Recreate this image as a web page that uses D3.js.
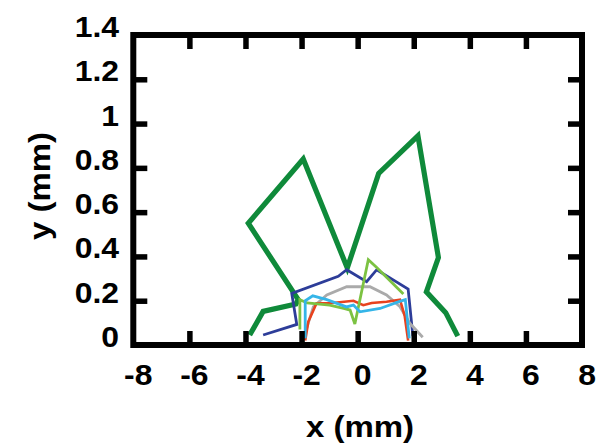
<!DOCTYPE html>
<html>
<head>
<meta charset="utf-8">
<script src="https://cdn.jsdelivr.net/npm/d3@7/dist/d3.min.js"></script>
<style>
  html, body { margin: 0; padding: 0; background: #fff; }
  svg { display: block; }
  text { font-family: "Liberation Sans", Arial, Helvetica, sans-serif; font-weight: bold; fill: #000; }
</style>
</head>
<body>
<svg id="chart" width="608" height="445"></svg>
<script>
// Axis ticks
const xTicks = [-8, -6, -4, -2, 0, 2, 4, 6, 8];
const yTicks = [0, 0.2, 0.4, 0.6, 0.8, 1, 1.2, 1.4];
const xTickLabels = ["-8", "-6", "-4", "-2", "0", "2", "4", "6", "8"];
const yTickLabels = ["0", "0.2", "0.4", "0.6", "0.8", "1", "1.2", "1.4"];

// Profiles (x, y in mm)
const darkGreenX = [-3.85, -3.37, -2.2, -2.12, -3.9, -1.94, -0.37, 0.75, 2.15, 2.88, 2.45, 3.14, 3.57];
const darkGreenY = [0.045, 0.152, 0.185, 0.205, 0.55, 0.84, 0.348, 0.775, 0.945, 0.395, 0.24, 0.146, 0.04];

const blueX = [-3.37, -2.17, -2.35, -0.69, -0.39, 0.32, 0.68, 1.8, 1.97];
const blueY = [0.045, 0.093, 0.233, 0.31, 0.34, 0.286, 0.34, 0.253, 0.04];

const grayX = [-1.88, -1.58, -1.1, -0.39, 0.44, 1.03, 1.51, 1.86, 2.32];
const grayY = [0.05, 0.173, 0.226, 0.263, 0.263, 0.226, 0.173, 0.098, 0.035];

const redX = [-1.87, -1.76, -1.47, -0.9, -0.15, 0.2, 0.5, 1.03, 1.51, 1.68, 1.8];
const redY = [0.02, 0.105, 0.188, 0.19, 0.2, 0.18, 0.19, 0.195, 0.205, 0.13, 0.02];

const lightGreenX = [-2.06, -2.06, -1.8, -1.0, -0.5, -0.27, -0.1, 0.38, 0.68, 1.63];
const lightGreenY = [0.07, 0.205, 0.19, 0.18, 0.165, 0.158, 0.095, 0.385, 0.35, 0.23];

const cyanX = [-1.87, -1.87, -1.6, -1.1, -0.4, -0.15, 0.08, 0.8, 1.45, 1.7, 1.84];
const cyanY = [0.03, 0.2, 0.222, 0.205, 0.172, 0.18, 0.15, 0.165, 0.195, 0.205, 0.03];

const series = [
  { xs: darkGreenX, ys: darkGreenY, color: "#0f8a3a", width: 5.2 },
  { xs: blueX, ys: blueY, color: "#2d3d99", width: 2.8 },
  { xs: grayX, ys: grayY, color: "#aaaaaa", width: 2.8 },
  { xs: redX, ys: redY, color: "#e8421e", width: 2.6 },
  { xs: lightGreenX, ys: lightGreenY, color: "#7cc242", width: 2.8 },
  { xs: cyanX, ys: cyanY, color: "#35b5e8", width: 2.8 }
];

const svg = d3.select("#chart");
const plotL = 133.3, plotR = 582, plotT = 35, plotB = 345;

const x = d3.scaleLinear().domain([-8, 8]).range([plotL, plotR]);
const y = d3.scaleLinear().domain([0, 1.4]).range([plotB, plotT]);

// Data lines
const line = d3.line().x(d => x(d[0])).y(d => y(d[1]));
series.forEach(s => {
  const pts = s.xs.map((v, i) => [v, s.ys[i]]);
  svg.append("path")
    .datum(pts)
    .attr("d", line)
    .attr("fill", "none")
    .attr("stroke", s.color)
    .attr("stroke-width", s.width)
    .attr("stroke-linejoin", "miter")
    .attr("stroke-miterlimit", 3);
});

// Inward ticks on all four sides
const tickLen = 14;
const innerX = xTicks.slice(1, -1);
const innerY = yTicks.slice(1, -1);
function styleTicks(g) {
  g.select(".domain").remove();
  g.selectAll(".tick line").attr("stroke", "#000").attr("stroke-width", 5.5);
  g.selectAll(".tick text").remove();
}
svg.append("g").attr("transform", `translate(0,${plotB})`)
  .call(d3.axisBottom(x).tickValues(innerX).tickSize(-tickLen)).call(styleTicks);
svg.append("g").attr("transform", `translate(0,${plotT})`)
  .call(d3.axisTop(x).tickValues(innerX).tickSize(-tickLen)).call(styleTicks);
svg.append("g").attr("transform", `translate(${plotL},0)`)
  .call(d3.axisLeft(y).tickValues(innerY).tickSize(-tickLen)).call(styleTicks);
svg.append("g").attr("transform", `translate(${plotR},0)`)
  .call(d3.axisRight(y).tickValues(innerY).tickSize(-tickLen)).call(styleTicks);

// Frame
svg.append("rect")
  .attr("x", plotL).attr("y", plotT)
  .attr("width", plotR - plotL).attr("height", plotB - plotT)
  .attr("fill", "none").attr("stroke", "#000").attr("stroke-width", 6);

// Tick labels
const fs = 29, sx = 1.1;
svg.append("g").selectAll("text").data(xTicks).join("text")
  .attr("transform", (d) => `translate(${x(d) + 5},385) scale(${sx},1)`)
  .attr("text-anchor", "middle")
  .style("font-size", fs + "px")
  .text((d, i) => xTickLabels[i]);

svg.append("g").selectAll("text").data(yTicks).join("text")
  .attr("transform", (d) => `translate(119,${y(d) + 2}) scale(${sx},1)`)
  .attr("text-anchor", "end")
  .style("font-size", fs + "px")
  .text((d, i) => yTickLabels[i]);

// Axis titles
svg.append("text")
  .attr("transform", `translate(360,437) scale(${sx},1)`)
  .attr("text-anchor", "middle")
  .style("font-size", "30px")
  .text("x (mm)");

svg.append("text")
  .attr("transform", `translate(50,186) rotate(-90) scale(${sx},1)`)
  .attr("text-anchor", "middle")
  .style("font-size", "30px")
  .text("y (mm)");
</script>
</body>
</html>
